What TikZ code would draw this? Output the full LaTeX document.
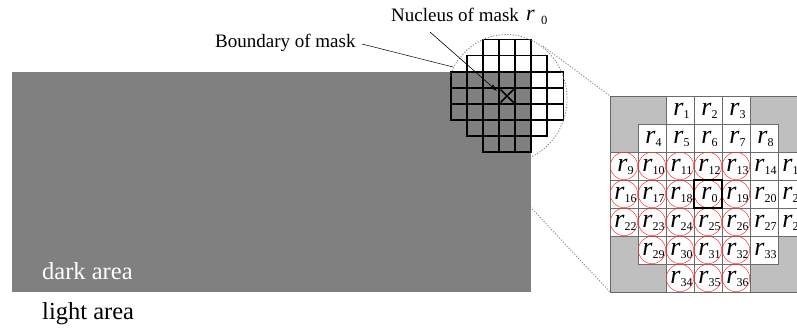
\documentclass[tikz,border=0pt]{standalone}
\usepackage{fontspec}
\setmainfont{Liberation Serif}
\usetikzlibrary{arrows.meta}
\newcommand{\rlab}[1]{{\fontsize{26}{26}\selectfont\itshape r}\kern0.3pt{\fontsize{12}{12}\selectfont\raisebox{-3pt}{#1}}}
\begin{document}
\begin{tikzpicture}[x=1pt,y=-1pt,
  smallcell/.style={draw=black,line width=1.7pt},
  bigcell/.style={draw=gray!85!black,fill=white,line width=0.7pt},
  lbl/.style={anchor=base,inner sep=0pt},
  redcirc/.style={draw=red!80,line width=0.5pt},
  zoomline/.style={draw=gray,line width=0.8pt,dash pattern=on 1.2pt off 1.6pt},
  txt/.style={anchor=base west,inner sep=0pt,font=\fontsize{19}{19}\selectfont},
  areatxt/.style={anchor=base west,inner sep=0pt,font=\fontsize{24.5}{24.5}\selectfont}]
\useasboundingbox (0,0) rectangle (797,329);
\clip (0,0) rectangle (797,329);
% dark area
\fill[gray] (12,71.7) rectangle (531.2,292.3);
\node[areatxt,text=white] (dark) at (42,279) {dark area};
\node[areatxt] (light) at (42,319) {light area};
% small mask
\foreach \r/\cs/\ce in {1/3/5,2/2/6,3/1/7,4/1/7,5/1/7,6/2/6,7/3/5}{
  \foreach \c in {\cs,...,\ce}{
    \draw[smallcell] ({450.7+(\c-1)*16.1},{39.5+(\r-1)*16.1}) rectangle ++(16.1,16.1);
  }
}
\draw[line width=1.5pt] (500.5,89.5) -- (513.5,102.5) (513.5,89.5) -- (500.5,102.5);
\coordinate (nucleus) at (497,91);
% boundary circle
\draw[zoomline] (506.5,98.5) ellipse [x radius=60.5, y radius=64];
\coordinate (bnd) at (453,67);
\coordinate (zt) at (543,46);
\coordinate (zb) at (448,119);
% labels
\node[txt] (nuc) at (391,22) {Nucleus of mask};
\node[anchor=base west,inner sep=0pt,font=\fontsize{22}{22}\selectfont\itshape] (nr) at (526,21) {r};
\node[anchor=base west,inner sep=0pt,font=\fontsize{12.5}{12.5}\selectfont] (n0) at (541,25) {0};
\node[txt] (bound) at (215,48) {Boundary of mask};
\coordinate (nucstart) at (430,32);
\coordinate (bndstart) at (362,44);
\draw[line width=0.6pt,-{Latex[length=7pt,width=5pt]}] (nucstart) -- (nucleus);
\draw[line width=0.5pt] (bndstart) -- (bnd);
% enlarged grid
\draw[fill=gray!50,draw=gray!80!black,line width=0.8pt] (610,96) rectangle (840,292);
\coordinate (bt) at (610,96);
\coordinate (bb) at (610,292);
\draw[zoomline] (zt) -- (bt);
\draw[zoomline] (zb) -- (bb);
\foreach \r/\c/\n in {1/3/1,1/4/2,1/5/3,
  2/2/4,2/3/5,2/4/6,2/5/7,2/6/8,
  3/1/9,3/2/10,3/3/11,3/4/12,3/5/13,3/6/14,3/7/15,
  4/1/16,4/2/17,4/3/18,4/4/0,4/5/19,4/6/20,4/7/21,
  5/1/22,5/2/23,5/3/24,5/4/25,5/5/26,5/6/27,5/7/28,
  6/2/29,6/3/30,6/4/31,6/5/32,6/6/33,
  7/3/34,7/4/35,7/5/36}{
  \draw[bigcell] ({610+(\c-1)*28},{96+(\r-1)*28}) rectangle ++(28,28);
  \node[lbl] (c\n) at ({610+(\c-1)*28+15.5},{96+(\r-1)*28+19.5}) {\rlab{\n}};
}
\foreach \r/\c in {3/1,3/2,3/3,3/4,3/5,4/1,4/2,4/3,4/4,4/5,5/1,5/2,5/3,5/4,5/5,
  6/2,6/3,6/4,6/5,7/3,7/4,7/5}{
  \draw[redcirc] ({610+(\c-1)*28+14},{96+(\r-1)*28+14}) circle [radius=13.7];
}
\draw[line width=2.5pt] (694,180) rectangle (722,208);
\end{tikzpicture}
\end{document}
